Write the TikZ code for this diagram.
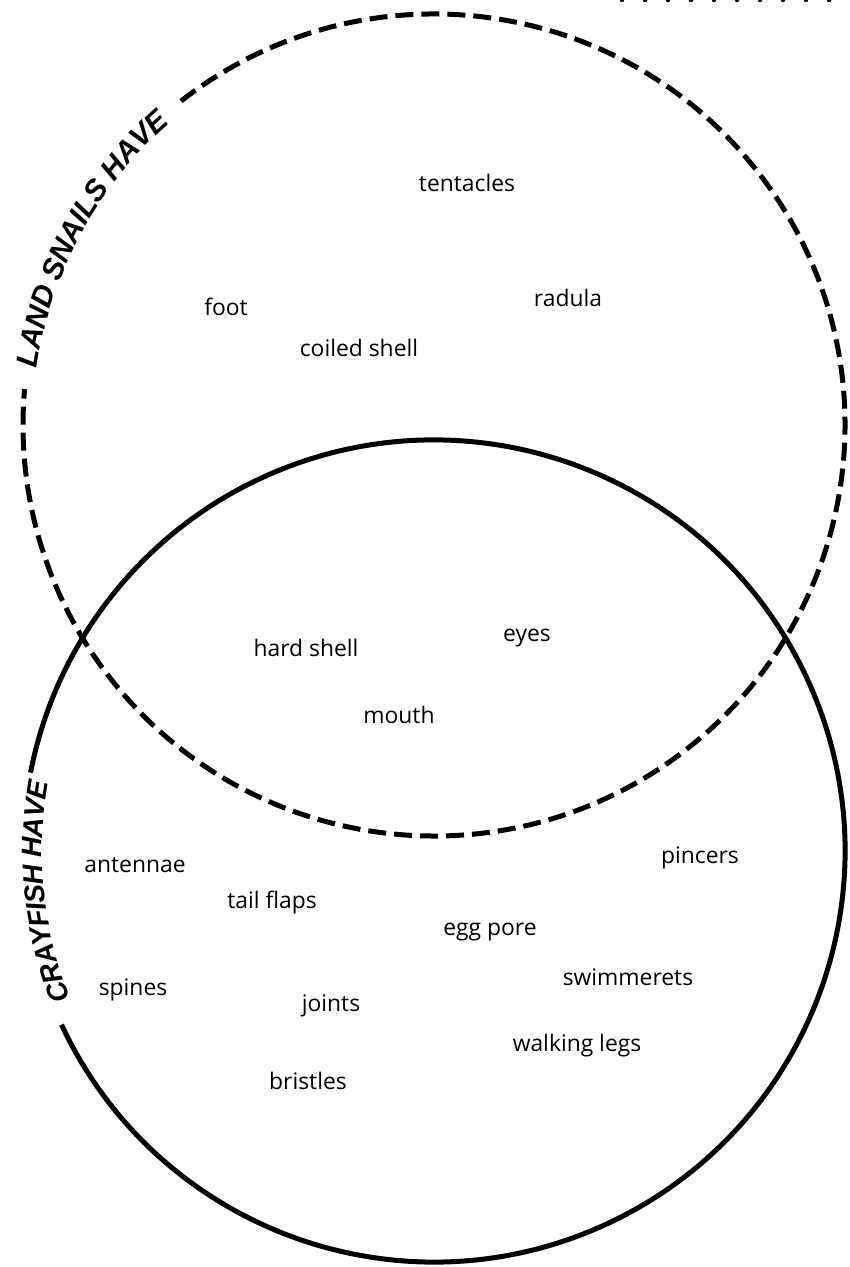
\documentclass[tikz,border=0pt]{standalone}
\usepackage{fontspec}
\setmainfont{Open Sans}
\newfontfamily\titlefont{Liberation Sans}
\usepackage{tikz}
\usetikzlibrary{decorations.text}

\begin{document}
\begin{tikzpicture}[x=0.2mm,y=0.2mm]
  \tikzstyle{item}=[font=\fontsize{13}{15}\selectfont,inner sep=0pt]
  \tikzstyle{rim}=[line width=1mm]
  \tikzstyle{snailrim}=[rim,dash pattern=on 3.6mm off 1.6mm]
  \tikzstyle{title}=[decorate,decoration={text along path,text align=center,#1}]
  \useasboundingbox (0,0) rectangle (850,1267);
  \coordinate (snails) at (434,842);
  \coordinate (crayfish) at (434,416);
  % the two rims, open where the titles sit
  \draw[snailrim] (snails) ++(128:82.2mm) arc[start angle=128,end angle=-185,radius=82.2mm];
  \draw[rim] (crayfish) ++(205:82.2mm) arc[start angle=205,end angle=529,radius=82.2mm];
  \path[title={raise=-2mm,text={|\titlefont\bfseries\itshape\fontsize{17}{17}\selectfont|LAND SNAILS HAVE}}]
    (snails) ++(174:82.2mm) arc[start angle=174,end angle=129,radius=82.2mm];
  \path[title={raise=-3.8mm,text={|\titlefont\bfseries\itshape\fontsize{16}{16}\selectfont|CRAYFISH HAVE}}]
    (crayfish) ++(202:82.2mm) arc[start angle=202,end angle=170,radius=82.2mm];
  % dotted edge at the top
  \coordinate (dotsl) at (622,1267);
  \coordinate (dotsr) at (850,1267);
  \draw[line width=0.9mm,line cap=round,dash pattern=on 0pt off 4.6mm] (dotsl) -- (dotsr);
  % snails only
  \node[item] (tentacles) at (467,1084) {tentacles};
  \node[item] (radula) at (568,969) {radula};
  \node[item] (foot) at (226,960) {foot};
  \node[item] (coiled) at (359,919) {coiled shell};
  % both
  \node[item] (hard) at (306,619) {hard shell};
  \node[item] (eyes) at (527,629) {eyes};
  \node[item] (mouth) at (399,552) {mouth};
  % crayfish only
  \node[item] (antennae) at (135,402) {antennae};
  \node[item] (tail) at (272,364) {tail flaps};
  \node[item] (pincers) at (700,409) {pincers};
  \node[item] (egg) at (490,335) {egg pore};
  \node[item] (swim) at (628,290) {swimmerets};
  \node[item] (spines) at (133,277) {spines};
  \node[item] (joints) at (331,261) {joints};
  \node[item] (walking) at (577,221) {walking legs};
  \node[item] (bristles) at (308,186) {bristles};
\end{tikzpicture}
\end{document}
